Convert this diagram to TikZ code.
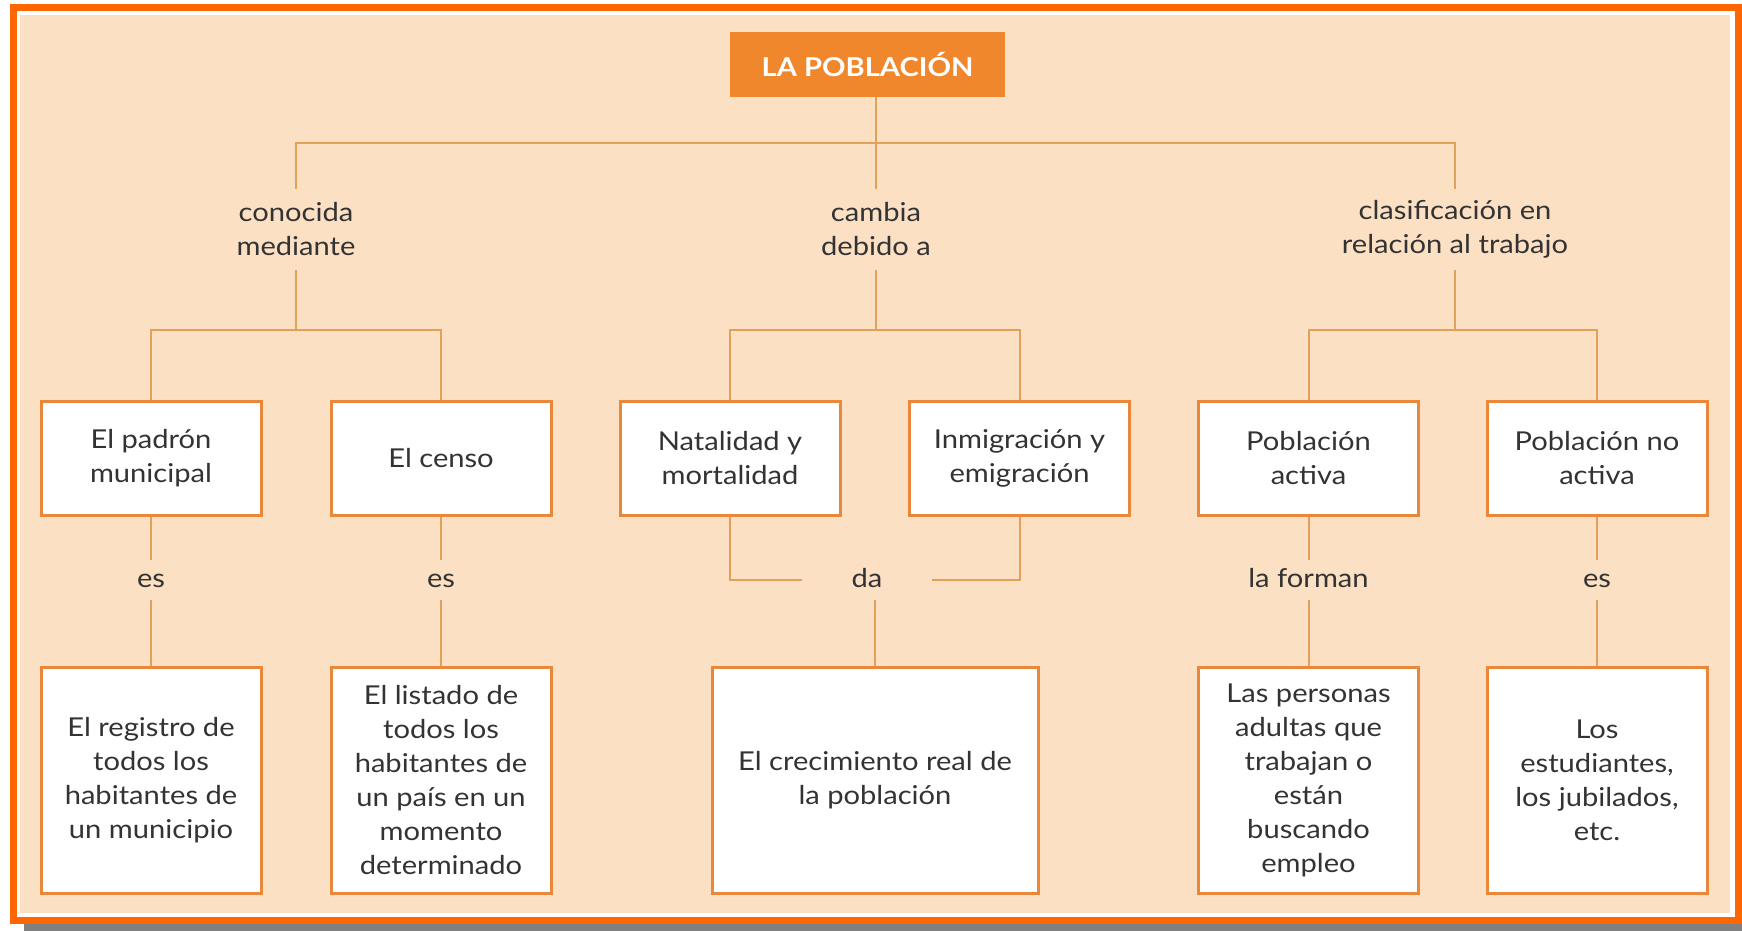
\documentclass[tikz,border=0pt]{standalone}
\usepackage{fontspec}
\setmainfont{Lato}[FakeStretch=1.12]
\usetikzlibrary{positioning}
\definecolor{marco}{HTML}{FF6600}
\definecolor{fondo}{HTML}{FCE0C4}
\definecolor{sombra}{HTML}{808080}
\definecolor{titulo}{HTML}{F0872C}
\definecolor{borde}{HTML}{E9883A}
\definecolor{trazo}{HTML}{E2A158}
\definecolor{texto}{HTML}{333333}

\begin{document}
\begin{tikzpicture}[x=0.5pt,y=-0.5pt,
  letra/.style={font=\fontsize{13}{17}\selectfont},
  caja/.style={letra,draw=borde,line width=1.5pt,fill=white,text=texto,align=center,
    minimum width=110pt,minimum height=57pt,inner sep=2pt},
  alta/.style={minimum height=113pt},
  rotulo/.style={letra,text=texto,align=center,inner sep=0pt,minimum height=40.5pt},
  enlace/.style={letra,text=texto,inner sep=0pt,minimum height=20pt,
    text height=9pt,text depth=2pt},
  linea/.style={draw=trazo,line width=1pt}]
  % marco
  \useasboundingbox (0,0) rectangle (1742,931);
  \fill[white] (0,0) rectangle (1742,931);
  \fill[sombra] (24,924) rectangle (1742,931);
  \draw[marco,line width=3.5pt] (13.5,7.5) rectangle (1738.5,920.5);
  \fill[fondo] (20,15) rectangle (1730,913);

  \node[fill=titulo,text=white,minimum width=137.5pt,minimum height=32.5pt,
    font=\fontsize{13}{16}\selectfont\bfseries] (pob) at (867.5,64.5) {LA POBLACIÓN};

  \node[rotulo] (conocida) at (296,229.5) {conocida\\mediante};
  \node[rotulo] (cambia) at (876,229.5) {cambia\\debido a};
  \node[rotulo] (clasif) at (1455,229.5) {clasificación en\\relación al trabajo};

  \node[caja] (padron) at (151,458) {El padrón\\municipal};
  \node[caja] (censo) at (441,458) {El censo};
  \node[caja] (natal) at (730,458) {Natalidad y\\mortalidad};
  \node[caja] (inmig) at (1019.5,458) {Inmigración y\\emigración};
  \node[caja] (activa) at (1308.5,458) {Población\\activa};
  \node[caja] (noactiva) at (1597,458) {Población no\\activa};

  \node[enlace] (es1) at (151,580) {es};
  \node[enlace] (es2) at (441,580) {es};
  \node[enlace,minimum width=64.5pt] (da) at (867,580) {da};
  \node[enlace] (forman) at (1308.5,580) {la forman};
  \node[enlace] (es3) at (1597,580) {es};

  \node[caja,alta] (registro) at (151,780) {El registro de\\todos los\\habitantes de\\un municipio};
  \node[caja,alta] (listado) at (441,780) {El listado de\\todos los\\habitantes de\\un país en un\\momento\\determinado};
  \node[caja,alta,minimum width=163pt] (crec) at (875,780) {El crecimiento real de\\la población};
  \node[caja,alta] (personas) at (1308.5,780) {Las personas\\adultas que\\trabajan o\\están\\buscando\\empleo};
  \node[caja,alta] (estud) at (1597,780) {Los\\estudiantes,\\los jubilados,\\etc.};

  \coordinate (bus) at (876,143);
  \coordinate (r1) at (296,330);
  \coordinate (r2) at (876,330);
  \coordinate (r3) at (1455,330);

  \draw[linea] (cambia.north |- pob.south) -- (cambia.north);
  \draw[linea] (conocida.north) |- (bus) -| (clasif.north);
  \draw[linea] (conocida.south) -- (r1);
  \draw[linea] (cambia.south) -- (r2);
  \draw[linea] (clasif.south) -- (r3);
  \draw[linea] (padron.north) |- (r1) -| (censo.north);
  \draw[linea] (natal.north) |- (r2) -| (inmig.north);
  \draw[linea] (activa.north) |- (r3) -| (noactiva.north);

  \draw[linea] (padron) -- (es1) -- (registro);
  \draw[linea] (censo) -- (es2) -- (listado);
  \draw[linea] (activa) -- (forman) -- (personas);
  \draw[linea] (noactiva) -- (es3) -- (estud);
  \draw[linea] (natal.south) |- (da.west);
  \draw[linea] (inmig.south) |- (da.east);
  \draw[linea] (crec.north |- da.south) -- (crec.north);
\end{tikzpicture}
\end{document}
